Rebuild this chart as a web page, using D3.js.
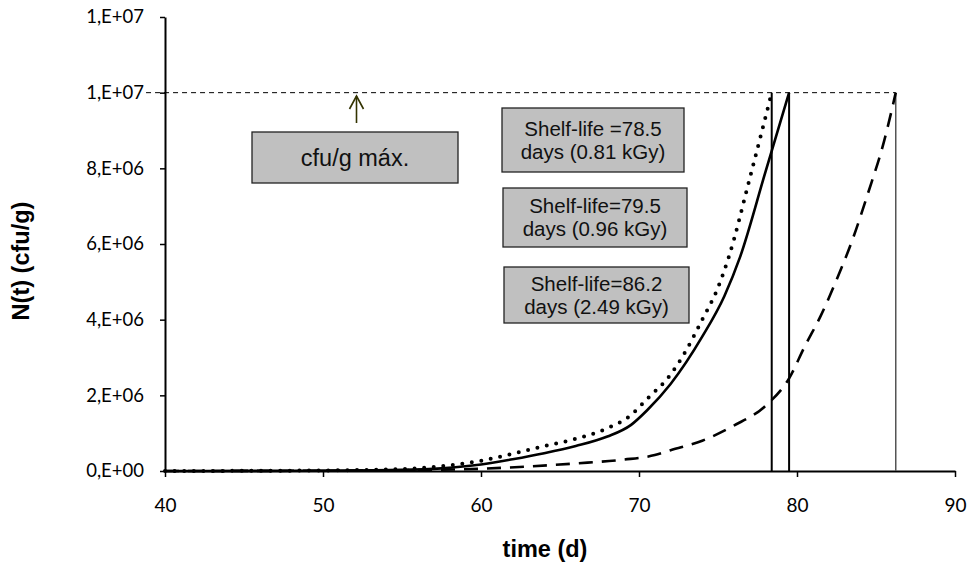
<!DOCTYPE html>
<html>
<head>
<meta charset="utf-8">
<script src="https://cdn.jsdelivr.net/npm/d3@7"></script>
<style>
  html, body { margin: 0; padding: 0; background: #fff; }
  svg { display: block; }
</style>
</head>
<body>
<svg id="chart" width="969" height="571"></svg>
<script>
// ---------- data ----------
const xTicks = [40, 50, 60, 70, 80, 90];
const yTicks = [0, 2e6, 4e6, 6e6, 8e6, 1e7, 1.2e7];

// 0.81 kGy (dotted)
const tDotted = [40, 45, 50, 55, 58, 60, 61.65, 63.8, 65.9, 68, 69.5, 70.5, 72, 73, 74, 75, 75.7, 77, 78.4];
const nDotted = [0, 5e3, 1.5e4, 5e4, 1.5e5, 2.7e5, 4.2e5, 6.4e5, 8.4e5, 1.13e6, 1.48e6, 1.9e6, 2.55e6, 3.2e6, 4.0e6, 4.85e6, 5.68e6, 7.72e6, 1e7];

// 0.96 kGy (solid)
const tSolid = [40, 45, 50, 55, 57.5, 60, 62, 64, 66, 68, 69.5, 70.5, 72, 74, 75.4, 76.4, 78, 79.5];
const nSolid = [0, 3e3, 1e4, 3e4, 7e4, 1.7e5, 3.1e5, 4.7e5, 6.6e5, 9.1e5, 1.22e6, 1.6e6, 2.3e6, 3.55e6, 4.62e6, 5.66e6, 7.9e6, 1e7];

// 2.49 kGy (dashed)
const tDashed = [40, 50, 55, 60, 63, 66, 69, 71, 72, 74, 76, 78, 79.5, 80.5, 81.5, 82.5, 83.5, 84.5, 85.5, 86.25];
const nDashed = [0, 8e3, 2e4, 6e4, 1.2e5, 2e5, 3e5, 4.2e5, 5.5e5, 8e5, 1.2e6, 1.72e6, 2.45e6, 3.3e6, 4.1e6, 5.05e6, 6.1e6, 7.35e6, 8.7e6, 1e7];

// shelf-life markers (time at which N reaches the limit)
const shelfLife = [78.4, 79.5, 86.25];
const nMax = 1e7;
const limitT = [38.8, 86.25];

const boxLines = [
  ["Shelf-life =78.5", "days (0.81 kGy)"],
  ["Shelf-life=79.5", "days (0.96 kGy)"],
  ["Shelf-life=86.2", "days (2.49 kGy)"]
];
const maxLabel = "cfu/g máx.";
const xTitle = "time (d)";
const yTitle = "N(t) (cfu/g)";

// ---------- layout ----------
const svg = d3.select("#chart");
const L = 165, R = 955, T = 17, B = 471;

const x = d3.scaleLinear().domain([40, 90]).range([L, R]);
const y = d3.scaleLinear().domain([0, 1.2e7]).range([B, T]);

function sci(v) {
  if (v === 0) return "0,E+00";
  let e = Math.floor(Math.log10(v));
  let m = Math.round(v / Math.pow(10, e));
  if (m >= 10) { m = 1; e += 1; }
  return m + ",E+" + String(e).padStart(2, "0");
}

// axes
const yAxis = svg.append("g")
  .attr("transform", `translate(${L},0)`)
  .call(d3.axisLeft(y).tickValues(yTicks).tickFormat(sci).tickSize(5).tickSizeOuter(0).tickPadding(16));
yAxis.selectAll("text").attr("font-family", "Lato, 'Open Sans', sans-serif").attr("font-size", 18.5).attr("fill", "#000");

const xAxis = svg.append("g")
  .attr("transform", `translate(0,${B})`)
  .call(d3.axisBottom(x).tickValues(xTicks).tickFormat(d3.format("d")).tickSize(6).tickSizeOuter(0).tickPadding(22));
xAxis.selectAll("text").attr("font-family", "Lato, 'Open Sans', sans-serif").attr("font-size", 19).attr("fill", "#000");

[yAxis, xAxis].forEach(g => {
  g.select(".domain").attr("stroke", "#000").attr("stroke-width", 2);
  g.selectAll(".tick line").attr("stroke", "#000").attr("stroke-width", 1.5);
});

// limit line
svg.append("line")
  .attr("x1", x(limitT[0])).attr("x2", x(limitT[1]))
  .attr("y1", y(nMax)).attr("y2", y(nMax))
  .attr("stroke", "#000").attr("stroke-width", 1).attr("stroke-dasharray", "5,4");

// vertical shelf-life lines
svg.selectAll(".vline").data(shelfLife).enter().append("line")
  .attr("x1", d => x(d)).attr("x2", d => x(d))
  .attr("y1", y(nMax)).attr("y2", y(0))
  .attr("stroke", (d, i) => i === 2 ? "#555" : "#000")
  .attr("stroke-width", (d, i) => i === 2 ? 1.5 : 2);

// curves
const line = d3.line().x(d => x(d[0])).y(d => y(d[1])).curve(d3.curveMonotoneX);
const zip = (a, b) => a.map((v, i) => [v, b[i]]);

svg.append("path").datum(zip(tDashed, nDashed)).attr("d", line)
  .attr("fill", "none").attr("stroke", "#000").attr("stroke-width", 2.6)
  .attr("stroke-dasharray", "14,9");
svg.append("path").datum(zip(tSolid, nSolid)).attr("d", line)
  .attr("fill", "none").attr("stroke", "#000").attr("stroke-width", 2.6);
svg.append("path").datum(zip(tDotted, nDotted)).attr("d", line)
  .attr("fill", "none").attr("stroke", "#000").attr("stroke-width", 4)
  .attr("stroke-linecap", "round").attr("stroke-dasharray", "0,9.6");

// annotation boxes
function box(x0, y0, w, h, lines, fs, lh) {
  svg.append("rect").attr("x", x0).attr("y", y0).attr("width", w).attr("height", h)
    .attr("fill", "#c0c0c0").attr("stroke", "#222").attr("stroke-width", 1.3);
  const cx = x0 + w / 2, cy = y0 + h / 2;
  const n = lines.length;
  lines.forEach((s, i) => {
    svg.append("text")
      .attr("x", cx).attr("y", cy + (i - (n - 1) / 2) * lh)
      .attr("dy", "0.36em")
      .attr("text-anchor", "middle")
      .attr("font-family", "'Liberation Sans', Arial, sans-serif")
      .attr("font-size", fs).attr("fill", "#111")
      .text(s);
  });
}
box(252, 132, 206, 51, [maxLabel], 23.5, 0);
box(502, 108, 182, 64, boxLines[0], 20.5, 23);
box(503, 188, 184, 59, boxLines[1], 20.5, 23);
box(504, 267, 185, 56, boxLines[2], 20.5, 23);

// arrow
const ax = 356.5;
svg.append("line").attr("x1", ax).attr("x2", ax).attr("y1", 123).attr("y2", 96)
  .attr("stroke", "#333300").attr("stroke-width", 1.6);
svg.append("path").attr("d", `M${ax - 7},${109} L${ax},${96} L${ax + 7},${109}`)
  .attr("fill", "none").attr("stroke", "#333300").attr("stroke-width", 1.6);

// axis titles
svg.append("text").attr("x", 545).attr("y", 557)
  .attr("text-anchor", "middle")
  .attr("font-family", "'Liberation Sans', Arial, sans-serif").attr("font-weight", "bold")
  .attr("font-size", 23.5)
  .text(xTitle);
svg.append("text").attr("transform", "translate(29,261) rotate(-90)")
  .attr("text-anchor", "middle")
  .attr("font-family", "'Liberation Sans', Arial, sans-serif").attr("font-weight", "bold")
  .attr("font-size", 23.5)
  .text(yTitle);
</script>
</body>
</html>
